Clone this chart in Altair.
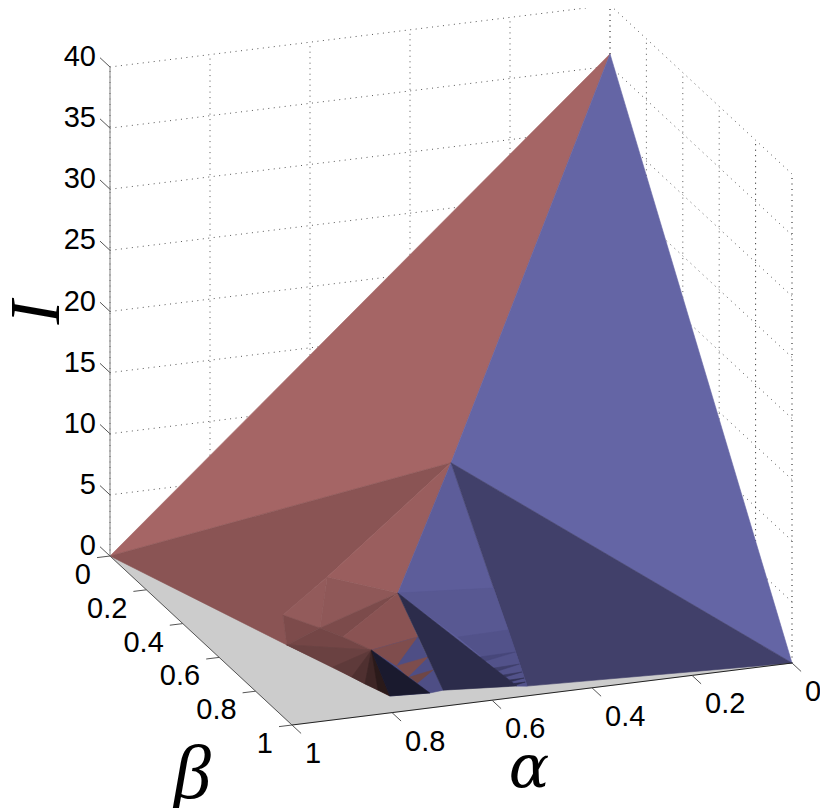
import altair as alt, pandas as pd

ticks_ab=[0,0.2,0.4,0.6,0.8,1]
ticks_i=[0,5,10,15,20,25,30,35,40]

names=['peak','A','C','B','V1','V2','V3','E','P1','P2','P3','P4','P5','P6','B5','B6','B7','B8','D1','N1','N2','K','Q1','Q2','Q3',
       'r1','r2','r3','r4','r5','r6','Ra','Rb','Rc','Rd','Re','La','La2','Lb','Lb2','Lc','Lc2','Ld','Ld2','Le','Le2']
alpha=[0,1,0,1,.5,.667,.75,.772,.819,.931,.865,.942,.825,.675,.863,.832,.81,.788,.696,.667,.529,.511,.494,.49,.595,
       .735,.667,.72,.716,.665,.705,.489,.489,.493,.501,.507,.563,.555,.542,.536,.532,.532,.531,.53,.53,.529]
beta=[0,0,1,1,.5,.667,.75,.912,.696,.761,.783,.812,.799,.799,.85,.867,.879,.89,.922,.916,.942,.949,.715,.787,.799,
      .848,.833,.867,.867,.855,.878,.824,.845,.872,.905,.927,.833,.84,.852,.857,.876,.887,.906,.915,.927,.936]
intensity=[36,0,0,0,12,4.5,1.4,0,6.98,5.34,4.25,3.66,3.53,2.77,1.98,1.24,.72,.26,0,0,0,0,4.7,2.24,2.36,
           1.39,1.57,.67,.65,.8,.25,.95,.25,0,0,0,1.04,.77,.29,.09,0,0,0,0,0,0]
V={n:(a,b,i) for n,a,b,i in zip(names,alpha,beta,intensity)}

faces_v=[['A','C','B'],['peak','A','V1'],['peak','V1','C'],
['A','V1','P1','P2','P4'],['V1','V2','P1'],['P2','P1','P3'],['P1','V2','P3'],['P2','P3','P4'],['P3','V2','P5'],
['P5','V2','P6','V3'],['P4','P3','P5','V3'],['P4','V3','E'],['V3','P6','D1','E'],
['P4','V3','B5'],['B5','V3','B6'],['B6','V3','B7'],['B7','V3','B8'],['B8','V3','E'],['V3','P6','r1'],
['V1','V2','N2','K'],['V1','C','K'],['V2','Q1','Q2','Q3'],['Q3','Q2','K','N2'],
['Ra','La','La2'],['Rb','Lb','Lb2'],['Rc','Lc','Lc2'],['Rd','Ld','Ld2'],['Re','Le','Le2'],
['P6','r1','D1','N1'],['r1','r2','r3'],['r4','r5','r6'],['V2','N1','N2'],['V3','E','D1']]
faces_c=['#cccccc','#a56565','#6465a5',
'#8a5454','#9a5e5e','#935b5b','#8f5858','#7d4b4b','#7c4b4b',
'#8a5353','#744646','#6a4141','#4e4e85',
'#6a4141','#5e3a3a','#4f3030','#3d2525','#2a1a1a','#7f4d4d',
'#5d5d9a','#41406a','#585892','#52528a',
'#47477a','#3f3f6b','#38385f','#303052','#2c2c4b',
'#4e4e85','#7d4d4d','#6f4646','#2c2c4b','#1a1a2e']

def proj(a,b,i):
    return (610-500*a+182*b, 494+62*a+169*b-12.225*i)

rows=[]
for n,(vs,col) in enumerate(zip(faces_v,faces_c)):
    for k,nm in enumerate(vs):
        x,y=proj(*V[nm]); rows.append(dict(x=x,y=y,p=f'{n:03d}',k=k,c=col))
df=pd.DataFrame(rows)

X=alt.X('x:Q',scale=alt.Scale(domain=[8,820]),axis=None)
Y=alt.Y('y:Q',scale=alt.Scale(domain=[808,8]),axis=None)

faces=alt.Chart(df).mark_line(strokeWidth=0.6,interpolate='linear-closed').encode(
    x=X,y=Y,detail='p:N',order='k:Q',fill=alt.Fill('c:N',scale=None),stroke=alt.Stroke('c:N',scale=None))

def seg_df(segs):
    r=[]
    for n,(p,q,c) in enumerate(segs):
        for k,t in enumerate((p,q)):
            x,y=proj(*t); r.append(dict(x=x,y=y,s=n,k=k,c=c))
    return pd.DataFrame(r)
grid=[]
for i in ticks_i:
    grid.append(((1,0,i),(0,0,i),'#555555')); grid.append(((0,0,i),(0,1,i),'#555555'))
for t in ticks_ab:
    grid.append(((t,0,0),(t,0,40),'#555555'))
    grid.append(((0,t,0),(0,t,40),'#555555' if t<0.8 else '#111111'))
gridl=alt.Chart(seg_df(grid)).mark_line(strokeWidth=1,strokeDash=[1,4.5]).encode(x=X,y=Y,detail='s:N',order='k:Q',color=alt.Color('c:N',scale=None))
axes=[((1,0,0),(1,0,40),'#808080'),((1,0,0),(1,1,0),'#555555'),((1,1,0),(0,1,0),'#222222')]
for i in ticks_i: axes.append(((1,0,i),(1,-.055,i),'#555555'))
for t in ticks_ab:
    axes.append(((1,t,0),(1.026,t,0),'#555555'))
    axes.append(((t,1,0),(t,1.05,0),'#555555'))
axl=alt.Chart(seg_df(axes)).mark_line(strokeWidth=1).encode(x=X,y=Y,detail='s:N',order='k:Q',color=alt.Color('c:N',scale=None))

def lab(tbl,**kw):
    r=[dict(zip(('x','y'),proj(*p)),t=t) for p,t in tbl]
    return alt.Chart(pd.DataFrame(r)).mark_text(font='Liberation Sans',fontSize=29,color='black',**kw).encode(x=X,y=Y,text='t:N')
fmt=lambda v:f'{v:g}'
l1=lab([((1,0,i),str(i)) for i in ticks_i],align='right',dx=-14,dy=-10,baseline='middle')
l2=lab([((1,t,0),fmt(t)) for t in ticks_ab],align='right',dx=-19,dy=19,baseline='middle')
l3=lab([((t,1,0),fmt(t)) for t in ticks_ab],align='left',dx=13,dy=29,baseline='middle')

tl=[('I',34,310,90,72,'Liberation Serif'),('α',529,769,0,60,'DejaVu Serif'),('β',192,775,0,76,'Liberation Serif')]
titles=[alt.Chart(pd.DataFrame([dict(x=x,y=y,t=t)])).mark_text(font=f,fontStyle='italic',fontSize=s,angle=a,align='center',baseline='middle',color='black').encode(x=X,y=Y,text='t:N') for t,x,y,a,s,f in tl]

chart=alt.layer(gridl,faces,axl,l1,l2,l3,*titles).properties(width=812,height=800,padding=0,autosize=alt.AutoSizeParams(type='none')).configure_view(stroke=None)
chart.save("out.html", embed_options={"renderer": "svg", "actions": False})
